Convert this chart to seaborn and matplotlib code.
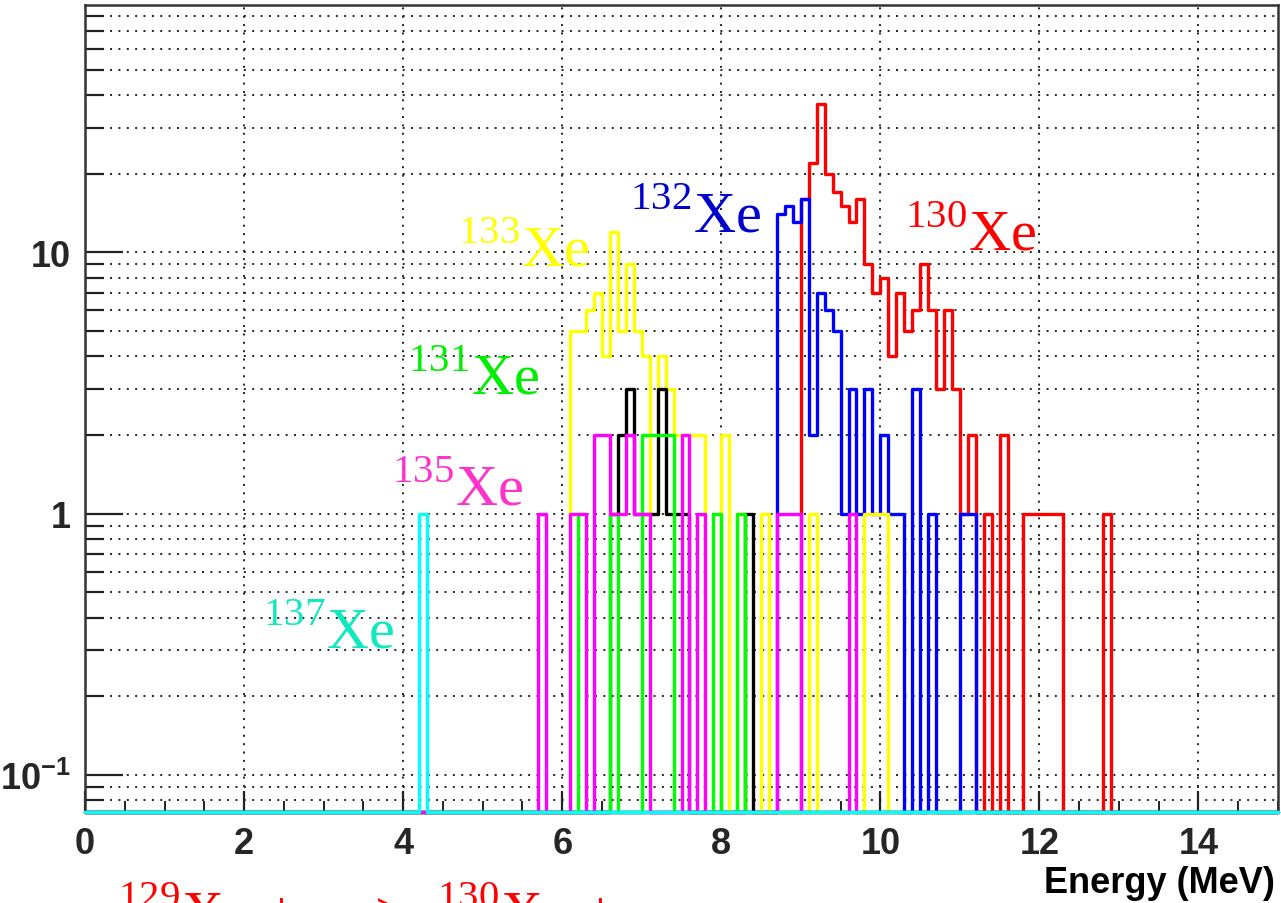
import numpy as np
import matplotlib
matplotlib.use("Agg")
import matplotlib.pyplot as plt
import seaborn as sns
from matplotlib.ticker import FixedLocator, NullFormatter

sns.set_theme(style="white")
plt.rcParams["font.family"] = ["Liberation Sans", "DejaVu Sans"]
plt.rcParams["mathtext.fontset"] = "custom"
plt.rcParams["mathtext.rm"] = "Liberation Serif"
plt.rcParams["mathtext.bf"] = "Liberation Sans:bold"

# Gamma-ray energy spectra, counts per 0.1 MeV bin (listed from the first bin)
bin_width = 0.1
e_min, e_max = 0.0, 15.0

xe130_start = 9.0
xe130_counts = [16, 22, 37, 20, 17, 15, 13, 16, 9, 7, 8, 4, 7, 5, 6, 9, 6, 3, 6, 3,
                1, 2, 0, 1, 0, 2, 0, 0, 1, 1, 1, 1, 1, 0, 0, 0, 0, 0, 1]

xe132_start = 8.7
xe132_counts = [14, 15, 13, 16, 2, 7, 6, 5, 1, 3, 1, 3, 1, 2, 1, 1, 0, 3, 0, 1,
                0, 0, 0, 1, 1]

xe133_start = 6.1
xe133_counts = [5, 5, 6, 7, 4, 12, 5, 9, 5, 4, 1, 4, 3, 2, 2, 2, 2, 0, 0, 2,
                0, 1, 0, 0, 1, 0, 0, 0, 0, 0, 1, 0, 0, 0, 0, 0, 0, 1, 1, 1]

other_start = 6.6
other_counts = [1, 2, 3, 1, 1, 1, 3, 1, 1, 1, 0, 0, 0, 0, 0, 0, 0, 1]

xe131_start = 6.2
xe131_counts = [1, 0, 0, 0, 1, 0, 0, 0, 2, 2, 2, 2, 0, 0, 0, 0, 0, 1, 0, 0, 1]

xe135_start = 5.7
xe135_counts = [1, 0, 0, 0, 1, 1, 0, 2, 2, 1, 1, 2, 1, 1, 0, 0, 0, 0, 2, 0,
                1, 0, 0, 0, 0, 0, 0, 0, 0, 0, 1, 1, 1, 0, 0, 0, 0, 0, 0, 1]

xe137_start = 4.2
xe137_counts = [1]

y_min, y_max = 0.0722, 88.3

series = [
    ("xe130", xe130_start, xe130_counts, "#ff0000"),
    ("xe132", xe132_start, xe132_counts, "#0000ff"),
    ("xe133", xe133_start, xe133_counts, "#ffff00"),
    ("other", other_start, other_counts, "#000000"),
    ("xe131", xe131_start, xe131_counts, "#00ff00"),
    ("xe135", xe135_start, xe135_counts, "#ff00ff"),
    ("xe137", xe137_start, xe137_counts, "#00ffff"),
]

n_bins = int(round((e_max - e_min) / bin_width))
edges = np.round(np.arange(n_bins + 1) * bin_width + e_min, 3)

W, H = 1281, 904
fig = plt.figure(figsize=(W / 100, H / 100), dpi=100)
ax = fig.add_axes([85 / W, 1 - 813 / H, (1278 - 85) / W, (813 - 6) / H])
ax.set_yscale("log")

for name, start, counts, color in series:
    full = np.zeros(n_bins)
    i0 = int(round((start - e_min) / bin_width))
    full[i0:i0 + len(counts)] = counts
    # empty bins sit on the bottom of the frame, as on a log axis
    yv = np.where(full > 0, full, y_min)
    yv = np.append(yv, yv[-1])
    sns.lineplot(x=edges, y=yv, drawstyle="steps-post", color=color, lw=2.4,
                 estimator=None, sort=False, ax=ax, clip_on=False, zorder=3)

ax.set_xlim(e_min, e_max)
ax.set_ylim(y_min, y_max)

# axes frame and ticks
for s in ax.spines.values():
    s.set_color("#333333")
    s.set_linewidth(1.8)
ax.xaxis.set_major_locator(FixedLocator(np.arange(0, 15, 2)))
ax.xaxis.set_minor_locator(FixedLocator(np.arange(0, 15.01, 0.5)))
ax.set_xticklabels([str(v) for v in range(0, 15, 2)])
ax.yaxis.set_major_locator(FixedLocator([0.1, 1, 10]))
minor_y = [m * d for d in (0.01, 0.1, 1, 10) for m in range(2, 10)]
ax.yaxis.set_minor_locator(FixedLocator(minor_y))
ax.yaxis.set_minor_formatter(NullFormatter())
ax.set_yticklabels([r"$\mathbf{10^{-1}}$", "1", "10"])

ax.tick_params(axis="x", which="major", direction="in", length=15, width=1.6,
               color="#222222", labelsize=26, pad=10, bottom=True, top=False)
ax.tick_params(axis="x", which="minor", direction="in", length=8, width=1.4,
               color="#222222", bottom=True, top=False)
ax.tick_params(axis="y", which="major", direction="in", length=27, width=1.6,
               color="#222222", labelsize=26, pad=10, left=True, right=False)
ax.tick_params(axis="y", which="minor", direction="in", length=14, width=1.6,
               color="#222222", left=True, right=False)
for lab in ax.get_xticklabels() + ax.get_yticklabels():
    lab.set_fontweight("bold")

grid_dash = (0, (1, 3.3))
ax.grid(True, which="major", axis="x", ls=grid_dash, color="#222222", lw=1.4)
ax.grid(True, which="both", axis="y", ls=grid_dash, color="#222222", lw=1.4)
ax.set_axisbelow(True)

fig.text(1275 / W, 1 - 884 / H, "Energy (MeV)", ha="right", va="center",
         fontsize=26, fontweight="bold", color="black")

# isotope labels
labels = [
    (r"$^{133}$Xe", 458, 265, "#ffff00"),
    (r"$^{132}$Xe", 630, 232, "#0000cc"),
    (r"$^{130}$Xe", 905, 250, "#ff0000"),
    (r"$^{131}$Xe", 408, 393, "#00ee00"),
    (r"$^{135}$Xe", 392, 505, "#ff33cc"),
    (r"$^{137}$Xe", 263, 648, "#10e8c0"),
]
for txt, px, py, col in labels:
    fig.text(px / W, 1 - py / H, txt, ha="left", va="baseline", fontsize=42,
             color=col, family="Liberation Serif")

# capture reaction, running off the bottom edge
fig.text(118 / W, 1 - 931 / H, r"$^{129}$Xe + n ->  $^{130}$Xe + γ",
         ha="left", va="baseline", fontsize=42, color="#ff0000",
         family="Liberation Serif")

fig.savefig("out.png", dpi=100)
